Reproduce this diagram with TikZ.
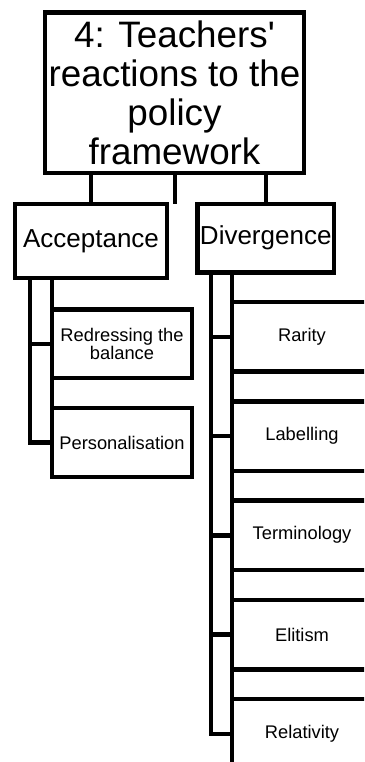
\documentclass[tikz,border=0pt]{standalone}
\usepackage{fontspec}
\setmainfont{Liberation Sans}[Ligatures=TeXOff]
\begin{document}
\begin{tikzpicture}[x=1pt,y=-1pt,
  box/.style={draw=black, line width=4.5pt, inner sep=0pt, outer sep=0pt,
    align=center, fill=white},
  rootbox/.style={box, minimum width=259pt, minimum height=160.5pt,
    font=\fontsize{36.8}{38.9}\selectfont},
  midbox/.style={box, font=\fontsize{26}{28}\selectfont},
  leafbox/.style={box, minimum width=140pt, minimum height=69.5pt,
    font=\fontsize{18.3}{18.5}\selectfont},
  link/.style={draw=black, line width=4.5pt}]
\useasboundingbox (0,0) rectangle (364,762);
\clip (0,0) rectangle (364,762);

% top of the tree
\node[rootbox] (root) at (174.5,92.75)
  {4: Teachers'\\reactions to the\\policy\\framework};

% second level
\node[midbox, minimum width=152pt, minimum height=74pt] (acc) at (91,241) {Acceptance};
\node[midbox, minimum width=136.5pt, minimum height=68.5pt] (div) at (265.75,238.25) {Divergence};

% children of Acceptance
\node[leafbox, minimum height=68.5pt] (red) at (122,343.75) {Redressing the\\balance};
\node[leafbox, minimum height=69pt] (pers) at (122,442.5) {Personalisation};

% children of Divergence
\node[leafbox] (rar) at (302,336.75) {Rarity};
\node[leafbox] (lab) at (302,436) {Labelling};
\node[leafbox] (ter) at (302,535.25) {Terminology};
\node[leafbox] (eli) at (302,634.5) {Elitism};
\node[leafbox] (rel) at (302,733.75) {Relativity};

% links below the top box
\draw[link] (acc.north) -- (acc.north |- root.south);
\draw[link] (div.north) -- (div.north |- root.south);
\coordinate (midend) at (175,204);
\draw[link] (root.south -| midend) -- (midend);

% Acceptance branch
\coordinate (abus) at (30,278);
\draw[link] (red.north west |- acc.south) -- (pers.south west);
\draw[link] (abus) |- (pers.west);
\draw[link] (abus |- red.west) -- (red.west);

% Divergence branch
\coordinate (dbus) at (211,272.5);
\draw[link] (rar.north west |- div.south) -- (rel.south west);
\draw[link] (dbus) |- (rel.west);
\foreach \n in {rar,lab,ter,eli}
  \draw[link] (dbus |- \n.west) -- (\n.west);
\end{tikzpicture}
\end{document}
